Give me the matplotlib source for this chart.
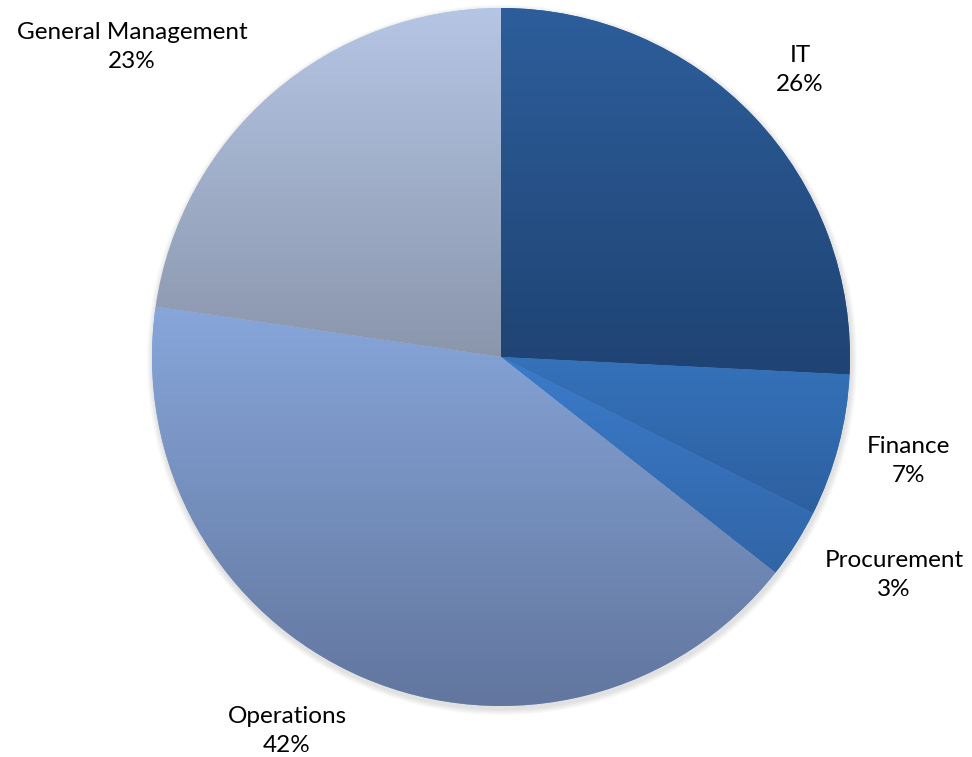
# pie chart of share by function, Excel style gradient slices
import matplotlib.pyplot as plt
import numpy as np
from matplotlib.colors import to_rgb

labels = ['IT', 'Finance', 'Procurement', 'Operations', 'General Management']
shares = [25.8, 6.6, 3.2, 41.7, 22.7]
pct_text = ['26%', '7%', '3%', '42%', '23%']

# gradient top -> bottom for each slice
top_colors = ['#2D5E9B', '#3572BA', '#3B7BCB', '#87A6DA', '#B5C5E4']
bottom_colors = ['#1F4373', '#2D60A0', '#3165A6', '#62769E', '#8A96AC']

# label anchor positions in pixels (x, y from top)
label_pos = [(800, 70), (908, 461), (894, 575), (287, 731), (132, 47)]

W, H = 972, 757
fig = plt.figure(figsize=(W / 100, H / 100), dpi=100)
ax = fig.add_axes([0, 0, 1, 1])

cx, cy, r = 501, H - 357, 349

# soft drop shadow
for i in range(10):
    sh = plt.Circle((cx + 1, cy - 3), r + 1 + i * 0.6, color='k',
                    alpha=0.012, lw=0, zorder=0)
    ax.add_patch(sh)

wedges, _ = ax.pie(shares, startangle=90, counterclock=False,
                   center=(cx, cy), radius=r, frame=True,
                   wedgeprops=dict(linewidth=0))
ax.set_xlim(0, W)
ax.set_ylim(0, H)
ax.set_aspect('equal')
ax.axis('off')

for w, c0, c1 in zip(wedges, top_colors, bottom_colors):
    ext = w.get_path().get_extents()
    t = np.linspace(0, 1, 256)[:, None]
    grad = (1 - t) * np.array(to_rgb(c0)) + t * np.array(to_rgb(c1))
    w.set_facecolor(c0)
    im = ax.imshow(grad[:, None, :], extent=(ext.x0, ext.x1, ext.y0, ext.y1),
                   origin='upper', aspect='auto', interpolation='bilinear',
                   zorder=2)
    im.set_clip_path(w)

for name, pct, (px, py) in zip(labels, pct_text, label_pos):
    ax.text(px, H - py, name + '\n' + pct, ha='center', va='center',
            fontsize=17.5, family='Lato', linespacing=1.5, color='black')

fig.savefig('out.png', dpi=100)
